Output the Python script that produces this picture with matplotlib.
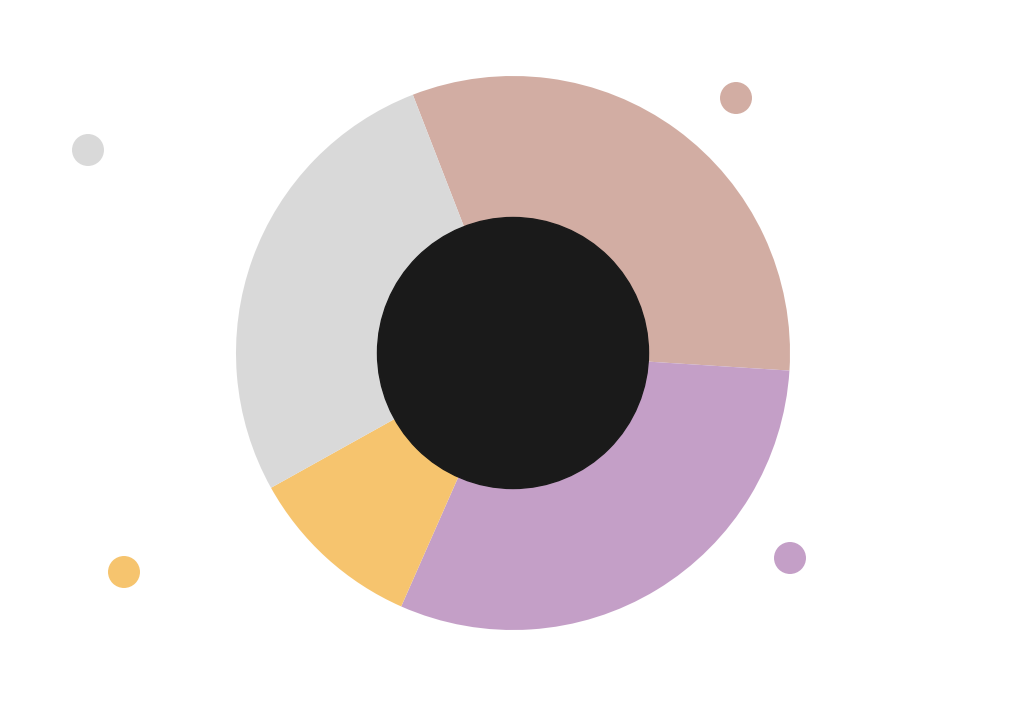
import matplotlib
matplotlib.use("Agg")
import matplotlib.pyplot as plt

# slice shares (percent), clockwise starting at the top-left edge
categories = ["B", "C", "D", "A"]
values = [31.9, 30.6, 10.3, 27.2]
colors = ["#d2ada3", "#c49fc7", "#f6c46e", "#d9d9d9"]

# loose legend dots (pixel positions, y measured from the top)
dot_x = [736, 790, 124, 88]
dot_y = [98, 558, 572, 150]

W, H = 1024, 704
fig = plt.figure(figsize=(W / 100, H / 100), dpi=100)
ax = fig.add_axes([0, 0, 1, 1])
ax.set_xlim(0, W)
ax.set_ylim(0, H)
ax.set_aspect("equal")
ax.axis("off")

cx, cy = 513, H - 353
ax.pie(values, colors=colors, startangle=111.2, counterclock=False,
       radius=277, center=(cx, cy), frame=True,
       wedgeprops=dict(linewidth=0))
ax.add_patch(plt.Circle((cx, cy), 135.5, color="#1a1a1a", zorder=3))

ax.scatter(dot_x, [H - y for y in dot_y], s=530, c=colors,
           linewidths=0, zorder=4)

ax.set_xlim(0, W)
ax.set_ylim(0, H)
ax.axis("off")
fig.savefig("out.png", dpi=100)
